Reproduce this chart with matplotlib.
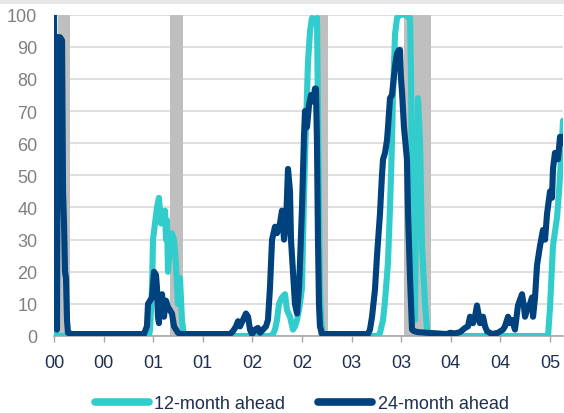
import matplotlib
matplotlib.use("Agg")
import matplotlib.pyplot as plt
from matplotlib.patches import Rectangle

# ---- data (decimal years, probability %) ----
dark_t = [2000.000, 2000.010, 2000.020, 2000.030, 2000.040, 2000.060, 2000.081, 2000.091, 2000.101,
          2000.111, 2000.121, 2000.131, 2000.141, 2000.181, 2000.907, 2000.937, 2000.948, 2000.968,
          2000.988, 2001.008, 2001.028, 2001.038, 2001.048, 2001.058, 2001.068, 2001.089, 2001.109,
          2001.119, 2001.129, 2001.149, 2001.169, 2001.189, 2001.210, 2001.230, 2001.250, 2001.270,
          2001.774, 2001.804, 2001.835, 2001.855, 2001.875, 2001.905, 2001.935, 2001.956, 2001.976,
          2001.996, 2002.026, 2002.056, 2002.077, 2002.107, 2002.137, 2002.157, 2002.177, 2002.198,
          2002.228, 2002.248, 2002.278, 2002.298, 2002.319, 2002.339, 2002.359, 2002.379, 2002.389,
          2002.409, 2002.429, 2002.450, 2002.470, 2002.480, 2002.500, 2002.520, 2002.530, 2002.550,
          2002.571, 2002.591, 2002.611, 2002.631, 2002.641, 2002.651, 2002.661, 2002.671, 2002.681,
          2002.702, 2003.165, 2003.185, 2003.206, 2003.236, 2003.256, 2003.286, 2003.306, 2003.317,
          2003.337, 2003.357, 2003.367, 2003.387, 2003.407, 2003.438, 2003.458, 2003.478, 2003.488,
          2003.498, 2003.508, 2003.528, 2003.558, 2003.569, 2003.589, 2003.609, 2003.629, 2003.669,
          2003.760, 2003.962, 2003.992, 2004.042, 2004.093, 2004.143, 2004.173, 2004.194, 2004.224,
          2004.244, 2004.264, 2004.284, 2004.294, 2004.325, 2004.345, 2004.365, 2004.415, 2004.476,
          2004.526, 2004.546, 2004.577, 2004.597, 2004.617, 2004.647, 2004.677, 2004.718, 2004.738,
          2004.748, 2004.778, 2004.798, 2004.819, 2004.829, 2004.849, 2004.869, 2004.889, 2004.899,
          2004.929, 2004.950, 2004.970, 2005.000, 2005.020, 2005.030, 2005.050, 2005.081, 2005.101,
          2005.121, 2005.131]
dark_v = [100, 55, 4, 2, 93, 93, 92, 45, 35,
          20, 18, 5, 1, 0.6, 0.6, 3, 10, 11,
          12, 20, 19, 15, 6, 4, 12, 13, 6,
          9, 11, 9, 8, 7, 3, 2, 1, 0.6,
          0.6, 1.5, 3, 4.6, 3, 5, 7, 6, 2,
          0.6, 2, 2.5, 1, 2, 3, 5, 15, 30,
          34, 32, 35, 39, 30, 35, 52, 45, 30,
          20, 10, 7, 15, 23, 40, 62, 70, 65,
          72, 75, 73, 77, 77, 60, 30, 10, 3,
          0.6, 0.6, 2, 6, 14.6, 25, 38, 50, 55,
          57, 61, 65, 74, 75, 84, 88, 89, 89,
          80, 76, 65, 55, 38, 18, 2, 1.5, 1.2,
          1, 0.6, 1, 0.8, 1.2, 2.5, 3, 6, 4,
          6, 9.5, 6, 4, 6, 3, 1.5, 0.6, 1,
          2, 3, 6, 4, 5, 2, 9.5, 13, 9,
          6, 9, 10, 12, 6, 12, 22, 26, 28,
          33, 30, 38, 45, 43, 52, 57, 55, 62,
          60, 62]

teal_t = [2000.000, 2000.010, 2000.020, 2000.030, 2000.958, 2000.968, 2000.988, 2000.998, 2001.018,
          2001.038, 2001.058, 2001.079, 2001.099, 2001.119, 2001.129, 2001.139, 2001.149, 2001.169,
          2001.189, 2001.210, 2001.230, 2001.250, 2001.270, 2001.290, 2001.310, 2002.198, 2002.228,
          2002.248, 2002.268, 2002.298, 2002.329, 2002.349, 2002.379, 2002.409, 2002.429, 2002.450,
          2002.480, 2002.500, 2002.510, 2002.530, 2002.550, 2002.560, 2002.581, 2002.601, 2002.631,
          2002.651, 2002.661, 2002.671, 2002.681, 2002.692, 2002.712, 2003.266, 2003.286, 2003.317,
          2003.337, 2003.367, 2003.387, 2003.407, 2003.417, 2003.438, 2003.458, 2003.488, 2003.538,
          2003.589, 2003.599, 2003.609, 2003.629, 2003.639, 2003.649, 2003.669, 2003.690, 2003.710,
          2003.740, 2003.760, 2003.790, 2004.980, 2005.000, 2005.030, 2005.071, 2005.091, 2005.111,
          2005.131]
teal_v = [1, 3, 1, 0, 0, 2, 15, 30, 35,
          40, 43, 35, 38, 39, 30, 36, 20, 28,
          32, 30, 22, 10, 18, 5, 0, 0, 2,
          5, 10, 12, 13, 8, 6, 2, 3, 5,
          10, 15, 30, 55, 75, 85, 95, 99, 98,
          99, 70, 40, 15, 5, 0, 0, 1, 5,
          11, 23, 40, 60, 75, 94, 99, 100, 100,
          99, 80, 40, 10, 5, 40, 74, 60, 28,
          10, 2, 0, 0, 9, 28, 37, 45, 55,
          67]

shade_start = [2000.04, 2001.17, 2002.66, 2003.53]
shade_end = [2000.16, 2001.30, 2002.76, 2003.80]

tick_pos = [2000.0, 2000.5, 2001.0, 2001.5, 2002.0, 2002.5, 2003.0, 2003.5, 2004.0, 2004.5, 2005.0]
tick_lab = ["00", "00", "01", "01", "02", "02", "03", "03", "04", "04", "05"]
y_ticks = [0, 10, 20, 30, 40, 50, 60, 70, 80, 90, 100]

TEAL = "#33CCCC"
NAVY = "#00427D"
TXT = "#1F2F4F"

plt.rcParams["font.family"] = ["Liberation Sans", "DejaVu Sans"]

fig = plt.figure(figsize=(5.64, 4.14), dpi=100)
fig.patches.append(Rectangle((0, 1 - 5 / 414), 1, 5 / 414, transform=fig.transFigure,
                             facecolor="#E6E6E6", edgecolor="none", zorder=0))
ax = fig.add_axes([54 / 564, 1 - 337 / 414, (563 - 54) / 564, (337 - 15.7) / 414])

for s, e in zip(shade_start, shade_end):
    ax.axvspan(s, e, color="#BFBFBF", lw=0, zorder=1)

ax.plot(teal_t, teal_v, color=TEAL, lw=4.4, solid_joinstyle="round", solid_capstyle="round",
        zorder=3, label="12-month ahead")
ax.plot(dark_t, dark_v, color=NAVY, lw=4.4, solid_joinstyle="round", solid_capstyle="round",
        zorder=4, label="24-month ahead")

ax.set_xlim(2000.0, 2005.131)
ax.set_ylim(0, 100)
ax.set_yticks(y_ticks)
ax.set_xticks(tick_pos)
ax.set_xticklabels(tick_lab)
ax.grid(axis="y", color="#D9D9D9", lw=1.2, zorder=0)
ax.set_axisbelow(True)
for sp in ["top", "right", "left"]:
    ax.spines[sp].set_visible(False)
ax.spines["bottom"].set_color("#A6A6A6")
ax.spines["bottom"].set_linewidth(1.2)
ax.spines["bottom"].set_zorder(2)
ax.tick_params(axis="y", length=0, pad=12, labelsize=13, labelcolor="#808080")
ax.tick_params(axis="x", length=4, width=1, color="#A6A6A6", pad=9, labelsize=13, labelcolor=TXT)

leg = fig.legend(loc="center", bbox_to_anchor=(0.535, 0.022), ncol=2, frameon=False,
                 fontsize=13, handlelength=3.0, handletextpad=0.3, columnspacing=1.8,
                 labelcolor=TXT)
for h in leg.get_lines():
    h.set_linewidth(5.5)
    h.set_solid_capstyle("round")

fig.savefig("out.png", dpi=100)
